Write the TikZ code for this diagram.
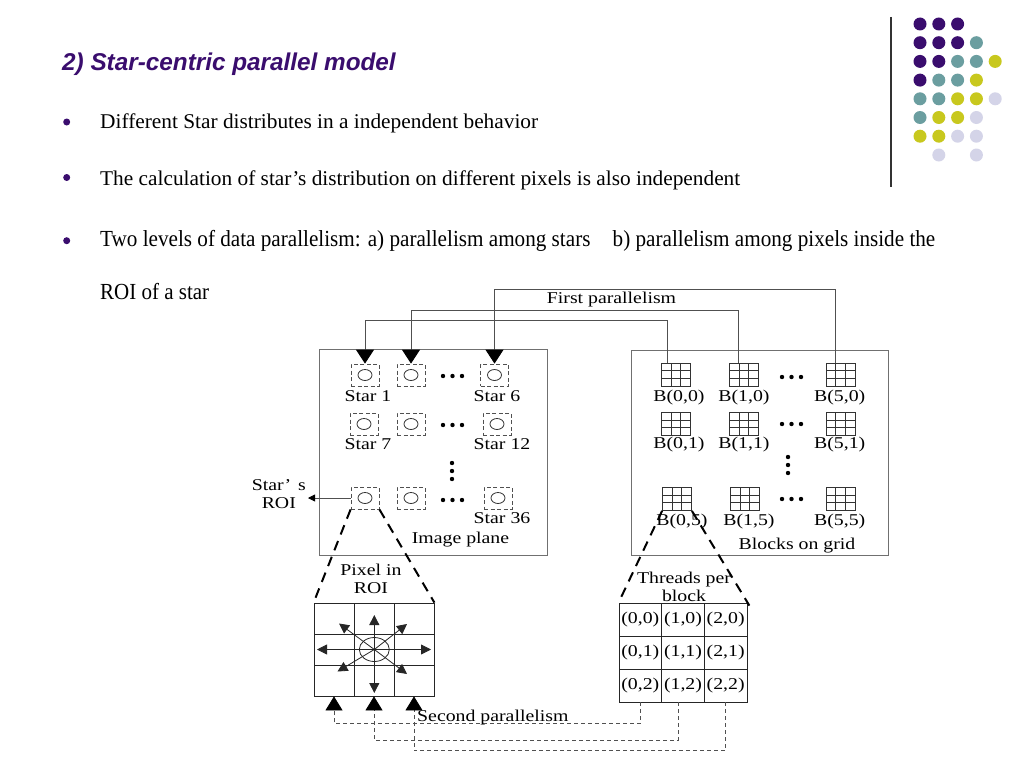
\documentclass[tikz,border=0pt]{standalone}
\usepackage{fontspec}
\usepackage{graphicx}
\setmainfont{Liberation Serif}
\newfontfamily\diagfont[FakeStretch=1.2]{Liberation Serif}
\newfontfamily\titlefont{Liberation Sans}
\usetikzlibrary{arrows.meta,calc,shapes.geometric}
\definecolor{dpurple}{HTML}{3A0D6E}
\definecolor{dteal}{HTML}{6B9EA0}
\definecolor{dyellow}{HTML}{C8C81E}
\definecolor{dlav}{HTML}{D4D4E8}
\definecolor{lgray}{HTML}{707070}
\definecolor{mgray}{HTML}{505050}
\begin{document}
\begin{tikzpicture}[x=1pt,y=-1pt,
  bul/.style={circle,fill=dpurple,minimum size=7pt,inner sep=0},
  btxt/.style={anchor=base west,inner sep=0},
  dot/.style={circle,minimum size=13pt,inner sep=0},
  lbl/.style={inner sep=0,font=\diagfont\fontsize{16.5}{18}\selectfont},
  panel/.style={draw=lgray,line width=1pt,inner sep=0},
  starbox/.style={draw=mgray,dash pattern=on 4pt off 2.5pt,line width=0.8pt,
    minimum width=28pt,minimum height=22pt,inner sep=0,
    path picture={\draw[solid,black!80,line width=0.8pt] (path picture bounding box.center) ellipse (7pt and 5.5pt);}},
  blkicon/.style={draw=black!80,line width=0.8pt,minimum width=29pt,minimum height=23pt,inner sep=0,
    path picture={
      \foreach \f in {0.3333,0.6667}{
        \draw[black!80,line width=0.8pt] ($(path picture bounding box.north west)!\f!(path picture bounding box.north east)$) -- ($(path picture bounding box.south west)!\f!(path picture bounding box.south east)$);
        \draw[black!80,line width=0.8pt] ($(path picture bounding box.north west)!\f!(path picture bounding box.south west)$) -- ($(path picture bounding box.north east)!\f!(path picture bounding box.south east)$);
      }}},
  fpar/.style={draw=mgray,line width=0.9pt,-{Triangle[width=18pt,length=14pt,black]}},
  zoomline/.style={draw=black,line width=2pt,dash pattern=on 10pt off 7pt},
  spar/.style={draw=mgray,line width=0.8pt,dash pattern=on 4pt off 3pt,-{Triangle[width=17pt,length=14pt,black]}},
  pxarr/.style={draw=black!85,line width=0.8pt,-{Triangle[width=10pt,length=10pt]}},
  cell/.style={draw=black!85,line width=0.8pt,inner sep=0}
]
\useasboundingbox[fill=white] (0,0) rectangle (1024,768);

% title and bullets
\node[anchor=base west,inner sep=0,text=dpurple,font=\titlefont\bfseries\itshape\fontsize{24.3}{28}\selectfont] (title) at (62,70.7) {2) Star-centric parallel model};
\node[bul] (bu1) at (66.7,122) {};
\node[bul] (bu2) at (66.7,177.5) {};
\node[bul] (bu3) at (66.7,240.7) {};
\node[btxt,font=\fontsize{21}{24}\selectfont] (bt1) at (100,128.3) {\resizebox{438pt}{\height}{Different Star distributes in a independent behavior}};
\node[btxt,font=\fontsize{21}{24}\selectfont] (bt2) at (100,185) {\resizebox{640pt}{\height}{The calculation of star’s distribution on different pixels is also independent}};
\node[btxt,font=\fontsize{23}{26}\selectfont] (bt3) at (100,246) {\resizebox{835pt}{\height}{Two levels of data parallelism: a) parallelism among stars\hspace{0.8em} b) parallelism among pixels inside the}};
\node[btxt,font=\fontsize{23}{26}\selectfont] (bt4) at (100,299.3) {\resizebox{109pt}{\height}{ROI of a star}};

% decoration on the right
\draw[black!80,line width=1.3pt] (891,17) -- (891,187);
\foreach \r/\row in {0/{dpurple,dpurple,dpurple},1/{dpurple,dpurple,dpurple,dteal},2/{dpurple,dpurple,dteal,dteal,dyellow},3/{dpurple,dteal,dteal,dyellow},4/{dteal,dteal,dyellow,dyellow,dlav},5/{dteal,dyellow,dyellow,dlav},6/{dyellow,dyellow,dlav,dlav}}{
  \foreach \k [count=\c from 0] in \row {
    \node[dot,fill=\k] (d\r\c) at ({920+18.8*\c},{24+18.7*\r}) {};
  }
}
\node[dot,fill=dlav] (d71) at (938.8,155) {};
\node[dot,fill=dlav] (d73) at (976.4,155) {};

% panels
\node[panel,minimum width=228pt,minimum height=206pt] (imgplane) at (433,452) {};
\node[panel,minimum width=257pt,minimum height=205pt] (blkgrid) at (759.5,452.5) {};

% stars
\node[starbox] (s1) at (365,375) {};
\node[starbox] (s2) at (411,375) {};
\node[starbox] (s6) at (494.5,375) {};
\node[starbox] (s7) at (364,424) {};
\node[starbox] (s8) at (411,424) {};
\node[starbox] (s12) at (497,424) {};
\node[starbox] (s31) at (365,498) {};
\node[starbox] (s32) at (411,498) {};
\node[starbox] (s36) at (498,498) {};

\node[lbl,anchor=base] (ls1) at (368,401) {Star 1};
\node[lbl,anchor=base] (ls6) at (497,401) {Star 6};
\node[lbl,anchor=base] (ls7) at (368,449.5) {Star 7};
\node[lbl,anchor=base] (ls12) at (502,449.5) {Star 12};
\node[lbl,anchor=base] (ls36) at (502,523.5) {Star 36};
\node[lbl,anchor=base] (limg) at (460.5,543.5) {Image plane};

\foreach \y in {376,425,500}{\foreach \x in {443,452.5,462}{\fill (\x,\y) circle (2.2);}}
\foreach \y in {463,471,479}{\fill (452,\y) circle (2.2);}

% blocks
\node[blkicon] (b00) at (676,374.5) {};
\node[blkicon] (b10) at (744,374.5) {};
\node[blkicon] (b50) at (840.5,374.5) {};
\node[blkicon] (b01) at (676,424) {};
\node[blkicon] (b11) at (744,424) {};
\node[blkicon] (b51) at (840.5,424) {};
\node[blkicon] (b05) at (677,499) {};
\node[blkicon] (b15) at (745,499) {};
\node[blkicon] (b55) at (840.5,499) {};

\node[lbl,anchor=base] (lb00) at (679,401) {B(0,0)};
\node[lbl,anchor=base] (lb10) at (744,401) {B(1,0)};
\node[lbl,anchor=base] (lb50) at (839.7,401) {B(5,0)};
\node[lbl,anchor=base] (lb01) at (679,448.5) {B(0,1)};
\node[lbl,anchor=base] (lb11) at (744,448.5) {B(1,1)};
\node[lbl,anchor=base] (lb51) at (839.7,448.5) {B(5,1)};
\node[lbl,anchor=base] (lb05) at (682,525.5) {B(0,5)};
\node[lbl,anchor=base] (lb15) at (749,525.5) {B(1,5)};
\node[lbl,anchor=base] (lb55) at (839.7,525.5) {B(5,5)};
\node[lbl,anchor=base] (lblk) at (797,549.5) {Blocks on grid};

\foreach \y in {377,424,499}{\foreach \x in {782,791.5,801}{\fill (\x,\y) circle (2.2);}}
\foreach \y in {457,465,473}{\fill (788,\y) circle (2.2);}

% first parallelism
\draw[fpar] ([xshift=-9pt]b00.north) -- ++(0,-42.3) -| (s1.north);
\draw[fpar] ([xshift=-6pt]b10.north) -- ++(0,-52.3) -| (s2.north);
\draw[fpar] ([xshift=-5pt]b50.north) -- ++(0,-73) -| (s6.north);
\node[lbl] (lfirst) at (611.5,300) {First parallelism};

% star's ROI
\coordinate (roiend) at (308,498);
\draw[mgray,line width=0.8pt,-{Triangle[width=7pt,length=7pt,black]}] (s31.west) -- (roiend);
\node[lbl,align=center,anchor=east] (roitxt) at (306,494) {Star’\hspace{7pt}s\\ROI};

% pixel grid
\foreach \c in {0,1,2}{\foreach \r in {0,1,2}{
  \node[cell,minimum width=40pt,minimum height=31pt] (px\c\r) at ({334+40*\c},{618.5+31*\r}) {};
}}
\node[draw=black!85,line width=0.8pt,ellipse,minimum width=30pt,minimum height=24pt,inner sep=0] (pc) at (374.3,649.5) {};
\coordinate (pu) at (374.3,615);
\coordinate (pd) at (374.3,693);
\coordinate (pl) at (317,649.5);
\coordinate (pr) at (431,649.5);
\coordinate (pul) at (339,623.5);
\coordinate (pur) at (407,624);
\coordinate (pdl) at (337.5,671.5);
\coordinate (pdr) at (407,674);
\foreach \e in {pu,pd,pl,pr,pul,pur,pdl,pdr}{\draw[pxarr] (pc.center) -- (\e);}
\draw[zoomline] (s31.south west) -- (px00.north west);
\draw[zoomline] (s31.south east) -- (px20.north east);
\node[lbl,align=center] (lpix) at (371,579) {Pixel in\\ROI};

% threads grid
\foreach \c in {0,1,2}{\foreach \r in {0,1,2}{
  \node[cell,minimum width=42.67pt,minimum height=33pt,lbl] (th\c\r) at ({640.3+42.67*\c},{619.5+33*\r}) {(\c,\r)};
}}
\draw[zoomline] (b05.south west) -- (th00.north west);
\draw[zoomline] (b05.south east) -- ($(th20.north east)+(2,3)$);
\node[lbl,align=center] (lthr) at (684,587) {Threads per\\block};

% second parallelism
\draw[spar] (th02.south) -- ++(0,21.3) -| (px02.south);
\draw[spar] ([xshift=-5pt]th12.south) -- ++(0,37.6) -| (px12.south);
\draw[spar] (th22.south) -- ++(0,48.3) -| (px22.south);
\node[lbl,anchor=base west] (lsec) at (417,721) {Second parallelism};
\end{tikzpicture}
\end{document}
